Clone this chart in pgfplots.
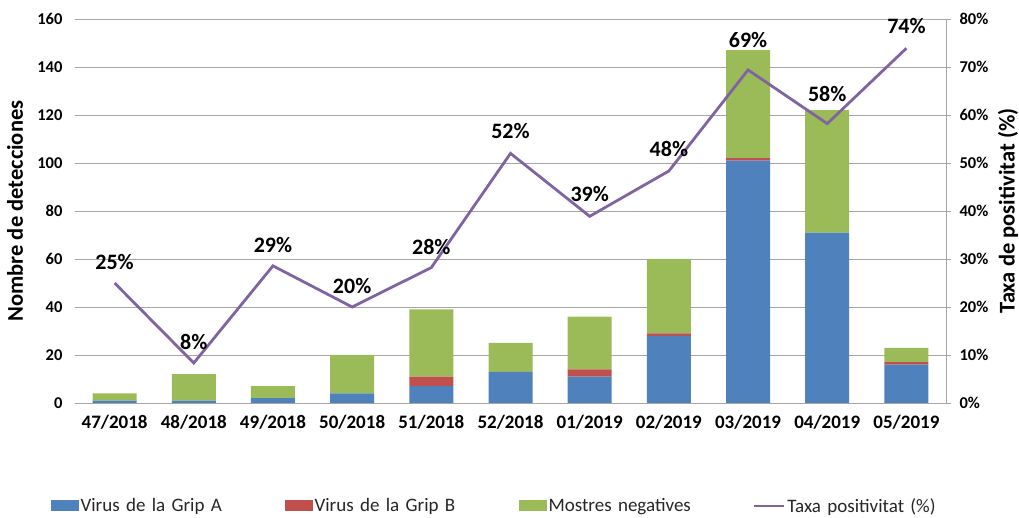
\documentclass[border=0pt]{standalone}
\usepackage{pgfplots}
\usepackage{pgfplotstable}
\pgfplotsset{compat=1.18}
\usepackage{fontspec}
\setmainfont{Carlito}
\definecolor{gA}{HTML}{4F81BD}
\definecolor{gB}{HTML}{C0504D}
\definecolor{gN}{HTML}{9BBB59}
\definecolor{lineP}{HTML}{8064A2}
\definecolor{gridc}{HTML}{A6A6A6}
\pgfplotsset{/pgf/number format/assume math mode=true}
\pgfplotstableread{
x y off
0 25 21
1 8.33 21
2 28.57 21
3 20 21
4 28.21 21
5 52 22
6 38.89 22
7 48.33 22
8 69.39 30
9 58.20 30
10 73.91 22
}\ratetable
\begin{document}
\begin{tikzpicture}[x=1pt,y=1pt]
\path[use as bounding box] (0,0) rectangle (1019,518);
\begin{axis}[
  at={(75pt,115pt)}, anchor=south west,
  scale only axis, width=871pt, height=384pt,
  /pgf/number format/assume math mode=true,
  ybar stacked, bar width=44pt,
  xmin=-0.5, xmax=10.5, ymin=0, ymax=160,
  xtick={0,...,10},
  xticklabels={47/2018,48/2018,49/2018,50/2018,51/2018,52/2018,01/2019,02/2019,03/2019,04/2019,05/2019},
  ytick={0,20,...,160},
  axis x line*=bottom, axis y line*=left,
  y axis line style={draw=none},
  x axis line style={draw=gridc, line width=0.9pt, -},
  xtick style={draw=none}, ytick style={draw=none},
  ymajorgrids, grid style={draw=gridc, line width=0.9pt},
  xticklabel style={font=\fontsize{19}{21}\selectfont\bfseries, yshift=-9pt},
  yticklabel style={font=\fontsize{16.5}{18}\selectfont\bfseries, xshift=-9pt},
  ylabel={Nombre de detecciones},
  every axis y label/.style={at={(axis description cs:-0.0689,0.5)}, rotate=90, anchor=center, font=\fontsize{22.5}{24}\selectfont\bfseries},
  legend image code/.code={\fill[#1] (0pt,-5.5pt) rectangle (28pt,5.5pt);},
  legend columns=4,
  legend style={at={(axis description cs:0.5,0)}, anchor=center, yshift=-103pt, xshift=9.5pt, draw=none, fill=none,
    font=\fontsize{19}{21}\selectfont, text=black!85,
    nodes={text width=200pt, inner sep=2pt},
    /tikz/every even column/.append style={column sep=2pt}},
  legend cell align=left,
]
\addplot[fill=gA, draw=none] coordinates {(0,1) (1,1) (2,2) (3,4) (4,7) (5,13) (6,11) (7,28) (8,101) (9,71) (10,16)};
\addplot[fill=gB, draw=none] coordinates {(0,0) (1,0) (2,0) (3,0) (4,4) (5,0) (6,3) (7,1) (8,1) (9,0) (10,1)};
\addplot[fill=gN, draw=none] coordinates {(0,3) (1,11) (2,5) (3,16) (4,28) (5,12) (6,22) (7,31) (8,45) (9,51) (10,6)};
\addlegendentry{Virus de la Grip A}
\addlegendentry{Virus de la Grip B}
\addlegendentry{Mostres negatives}
\addlegendimage{legend image code/.code={\draw[lineP, line width=2.8pt] (0pt,0pt) -- (30pt,0pt);}}
\addlegendentry{Taxa positivitat (\%)}
\end{axis}
\begin{axis}[
  at={(75pt,115pt)}, anchor=south west,
  scale only axis, width=871pt, height=384pt,
  /pgf/number format/assume math mode=true,
  xmin=-0.5, xmax=10.5, ymin=0, ymax=80,
  axis x line=none,
  axis y line*=right,
  y axis line style={draw=gridc, line width=0.9pt, -},
  ytick={0,10,...,80},
  yticklabel={\pgfmathprintnumber{\tick}\%},
  tick align=outside, major tick length=5pt,
  ytick style={draw=gridc, line width=0.9pt},
  yticklabel style={font=\fontsize{16.5}{18}\selectfont\bfseries, xshift=5pt},
  ylabel={Taxa de positivitat (\%)},
  every axis y label/.style={at={(axis description cs:1.0712,0.5)}, rotate=90, anchor=center, font=\fontsize{22.5}{24}\selectfont\bfseries},
  clip=false,
]
\addplot[lineP, line width=2.8pt, mark=none,
  visualization depends on={\thisrow{off}\as\myoff},
  nodes near coords={\pgfmathprintnumber[fixed,precision=0,assume math mode=true]{\pgfplotspointmeta}\%},
  nodes near coords style={anchor=center, yshift=\myoff pt, font=\fontsize{22}{24}\selectfont\bfseries, text=black},
] table[x=x, y=y] {\ratetable};
\end{axis}
\end{tikzpicture}
\end{document}
